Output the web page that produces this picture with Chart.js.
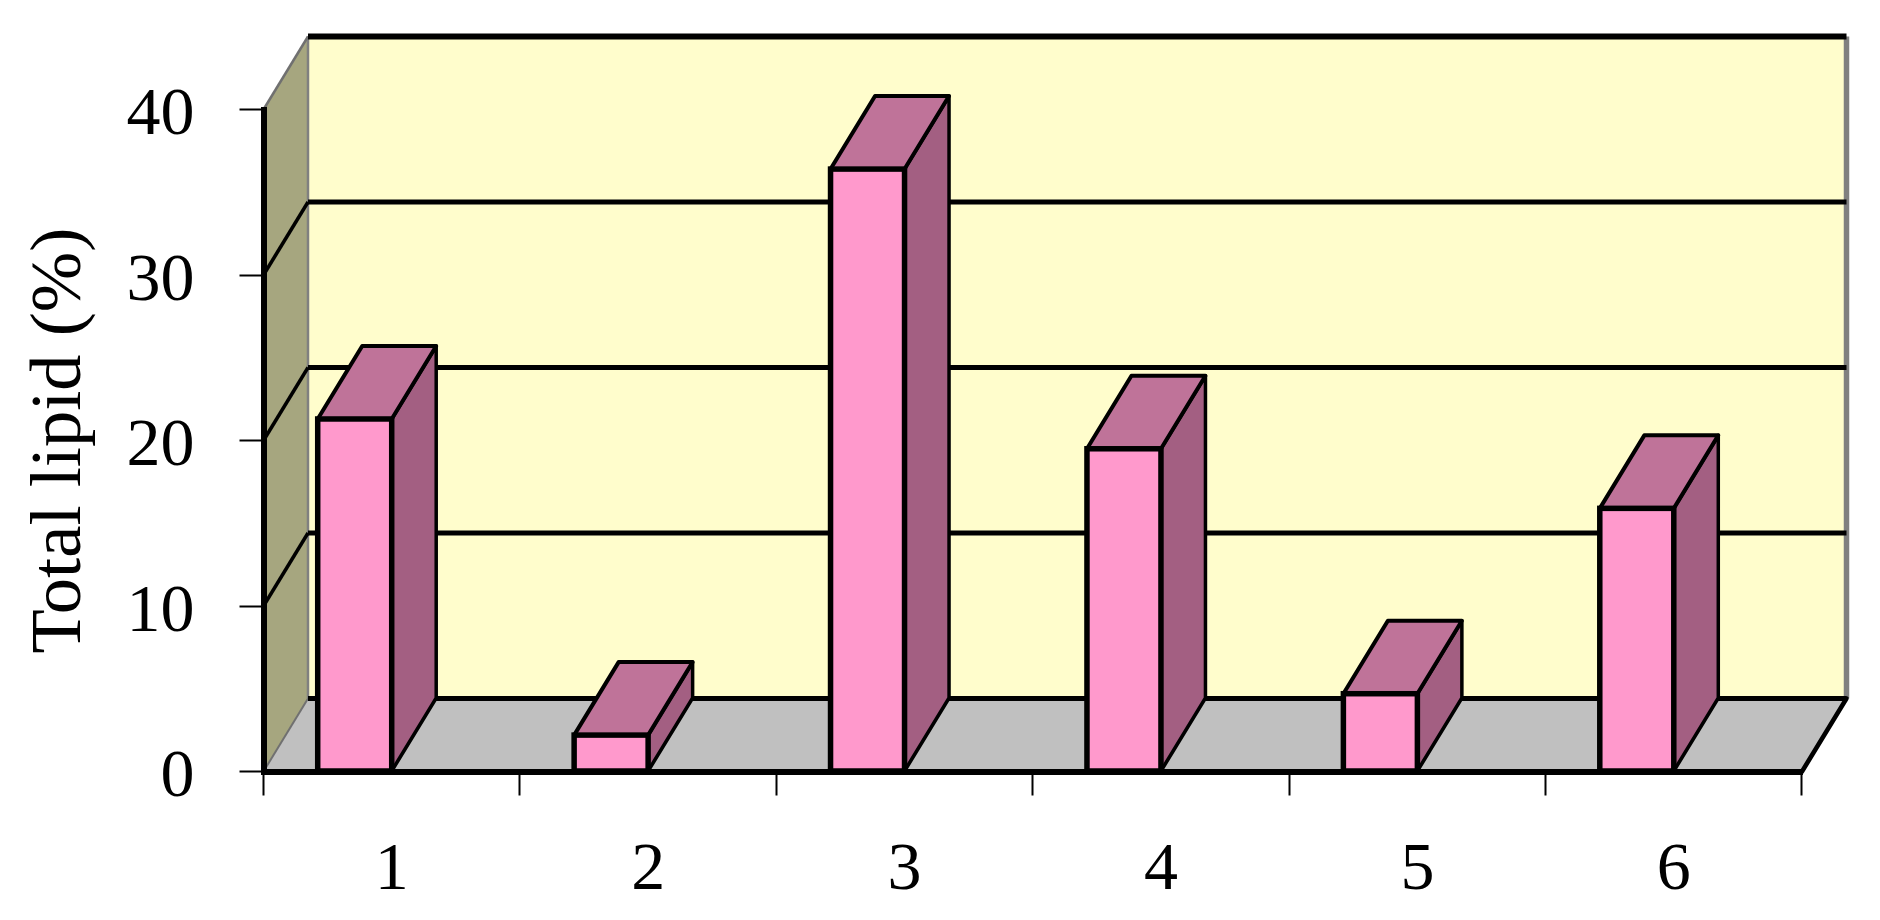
<!DOCTYPE html>
<html>

<head>
    <meta charset="utf-8">
    <title>Total lipid</title>
    <script src="https://cdn.jsdelivr.net/npm/chart.js@4/dist/chart.umd.min.js"></script>
    <style>
        html, body { margin: 0; padding: 0; background: #fff; }
        #wrap { position: relative; width: 1880px; height: 920px; }
    </style>
</head>

<body>
    <div id="wrap"><canvas id="myChart" width="1880" height="920"></canvas></div>
    <script>
        // data
        const categories = ['1', '2', '3', '4', '5', '6'];
        const lipidValues = [21.3, 2.2, 36.4, 19.5, 4.7, 15.9];
        const yMax = 40;
        const yStep = 10;
        const yTitle = 'Total lipid (%)';

        // fake 3D depth, px
        const DX = 44.5;
        const DY = -73;

        const fontFamily = '"Liberation Serif", serif';

        function poly(ctx, pts, fill, stroke, lw) {
            ctx.beginPath();
            pts.forEach((p, i) => i ? ctx.lineTo(p[0], p[1]) : ctx.moveTo(p[0], p[1]));
            ctx.closePath();
            if (fill) { ctx.fillStyle = fill; ctx.fill(); }
            if (stroke) { ctx.strokeStyle = stroke; ctx.lineWidth = lw; ctx.stroke(); }
        }

        function line(ctx, x1, y1, x2, y2, color, lw) {
            ctx.beginPath();
            ctx.moveTo(x1, y1);
            ctx.lineTo(x2, y2);
            ctx.strokeStyle = color;
            ctx.lineWidth = lw;
            ctx.stroke();
        }

        const depthPlugin = {
            id: 'depth',
            // walls and floor go under the axes
            beforeDraw(chart) {
                const ctx = chart.ctx;
                const { left, right, top, bottom } = chart.chartArea;
                const y = chart.scales.y;
                ctx.save();
                poly(ctx, [[left + DX, top + DY], [right + DX, top + DY], [right + DX, bottom + DY], [left + DX, bottom + DY]], '#FFFDCC');
                poly(ctx, [[left, top], [left + DX, top + DY], [left + DX, bottom + DY], [left, bottom]], '#A6A67F');
                poly(ctx, [[left, bottom], [left + DX, bottom + DY], [right + DX, bottom + DY], [right, bottom]], '#C0C0C0');

                line(ctx, left + DX, top + DY, left + DX, bottom + DY, '#808080', 2.5);
                line(ctx, right + DX, top + DY, right + DX, bottom + DY, '#808080', 5.5);
                line(ctx, left, top, left + DX, top + DY, '#707070', 2.5);
                line(ctx, left, bottom, left + DX, bottom + DY, '#707070', 2);

                y.ticks.forEach(t => {
                    const py = y.getPixelForValue(t.value);
                    if (t.value > 0 && t.value < yMax) {
                        line(ctx, left, py, left + DX, py + DY, '#000', 3.5);
                    }
                    line(ctx, left + DX, py + DY, right + DX, py + DY, '#000', t.value === yMax ? 6 : 5);
                });
                ctx.lineCap = 'round';
                line(ctx, right, bottom, right + DX, bottom + DY, '#000', 4.5);
                ctx.restore();
            },
            // top and side of each bar, behind its front face
            beforeDatasetsDraw(chart) {
                const ctx = chart.ctx;
                ctx.save();
                ctx.lineJoin = 'round';
                chart.getDatasetMeta(0).data.forEach(bar => {
                    const { x, y, base, width } = bar.getProps(['x', 'y', 'base', 'width'], true);
                    const l = x - width / 2;
                    const r = x + width / 2;
                    poly(ctx, [[r, y], [r + DX, y + DY], [r + DX, base + DY], [r, base]], '#A35F82', '#000', 3.5);
                    poly(ctx, [[l, y], [l + DX, y + DY], [r + DX, y + DY], [r, y]], '#BF7399', '#000', 4);
                });
                ctx.restore();
            },
            afterDatasetsDraw(chart) {
                const ctx = chart.ctx;
                ctx.save();
                ctx.lineJoin = 'miter';
                chart.getDatasetMeta(0).data.forEach(bar => {
                    const { x, y, base, width } = bar.getProps(['x', 'y', 'base', 'width'], true);
                    ctx.strokeStyle = '#000';
                    ctx.lineWidth = 5.5;
                    ctx.strokeRect(x - width / 2, y, width, base - y);
                });
                ctx.restore();
            }
        };

        const config = {
            type: 'bar',
            data: {
                labels: categories,
                datasets: [
                    { label: 'Total lipid', data: lipidValues, backgroundColor: '#FF99CC', borderWidth: 0, barThickness: 74 },
                    // empty partner so the bar sits left of the category centre
                    { label: '', data: [], barThickness: 74 }
                ]
            },
            options: {
                responsive: false,
                animation: false,
                layout: { padding: { top: 109.5, right: 78, left: 0, bottom: 0 } },
                plugins: { legend: { display: false }, tooltip: { enabled: false }, title: { display: false } },
                scales: {
                    x: {
                        afterFit(scale) { scale.height = 148.5; },
                        grid: { drawOnChartArea: false, drawTicks: true, tickLength: 24, tickWidth: 2, tickColor: '#000' },
                        border: { color: '#000', width: 6 },
                        ticks: { color: '#000', padding: 35, maxRotation: 0, font: { family: fontFamily, size: 68 } }
                    },
                    y: {
                        min: 0,
                        max: yMax,
                        afterFit(scale) { scale.width = 263.5; },
                        grid: { drawOnChartArea: false, drawTicks: true, tickLength: 24, tickWidth: 2, tickColor: '#000' },
                        border: { color: '#000', width: 6 },
                        ticks: { stepSize: yStep, color: '#000', padding: 45, labelOffset: 7, font: { family: fontFamily, size: 68 } },
                        title: { display: true, text: yTitle, color: '#000', padding: { top: 17, bottom: 0 }, font: { family: fontFamily, size: 72.5 } }
                    }
                }
            },
            plugins: [depthPlugin]
        };

        const myChart = new Chart(document.getElementById('myChart'), config);
    </script>
</body>

</html>
